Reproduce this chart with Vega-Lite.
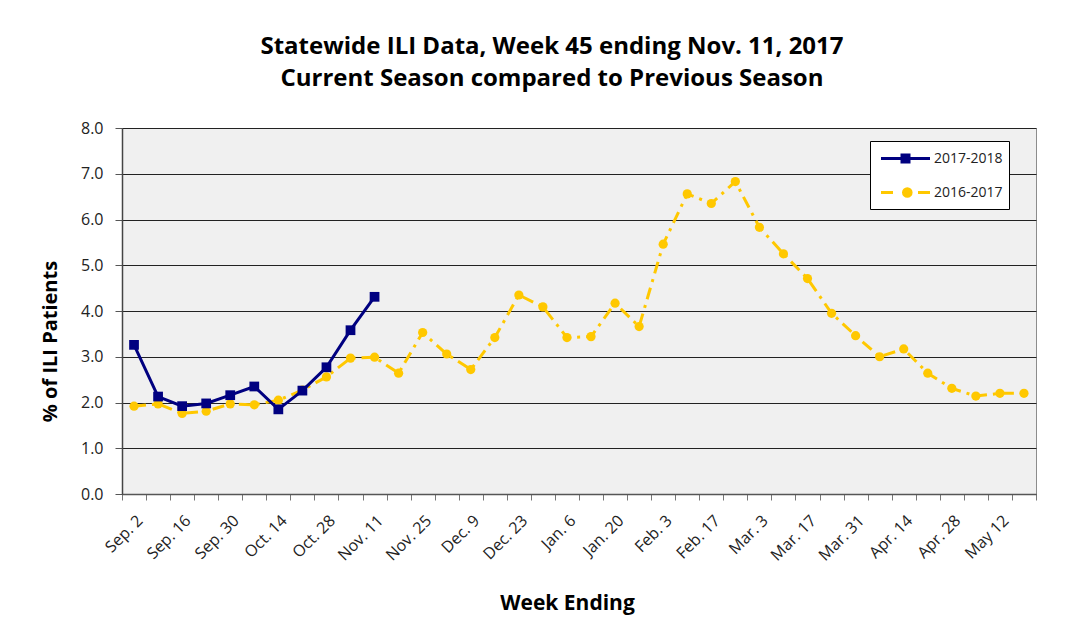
{
  "$schema": "https://vega.github.io/schema/vega-lite/v6.json",
  "width": 914,
  "height": 366,
  "autosize": {"type": "none"},
  "padding": {"left": 122, "top": 128, "right": 47, "bottom": 144},
  "background": "white",
  "title": {
    "text": ["Statewide ILI Data, Week 45 ending Nov. 11, 2017", "Current Season compared to Previous Season"],
    "font": "Open Sans",
    "fontSize": 24,
    "fontWeight": "bold",
    "color": "#000000",
    "lineHeight": 32,
    "anchor": "middle",
    "frame": "group",
    "dx": -27,
    "offset": 29
  },
  "config": {
    "view": {"fill": "#F0F0F0", "stroke": "#8C8C8C", "strokeWidth": 1},
    "font": "Open Sans"
  },
  "data": {"values": [
    {"week": "Sep. 2", "season": "2016-2017", "pct": 1.92},
    {"week": "Sep. 9", "season": "2016-2017", "pct": 1.97},
    {"week": "Sep. 16", "season": "2016-2017", "pct": 1.76},
    {"week": "Sep. 23", "season": "2016-2017", "pct": 1.81},
    {"week": "Sep. 30", "season": "2016-2017", "pct": 1.97},
    {"week": "Oct. 7", "season": "2016-2017", "pct": 1.95},
    {"week": "Oct. 14", "season": "2016-2017", "pct": 2.05},
    {"week": "Oct. 21", "season": "2016-2017", "pct": 2.27},
    {"week": "Oct. 28", "season": "2016-2017", "pct": 2.56},
    {"week": "Nov. 4", "season": "2016-2017", "pct": 2.97},
    {"week": "Nov. 11", "season": "2016-2017", "pct": 2.99},
    {"week": "Nov. 18", "season": "2016-2017", "pct": 2.64},
    {"week": "Nov. 25", "season": "2016-2017", "pct": 3.53},
    {"week": "Dec. 2", "season": "2016-2017", "pct": 3.06},
    {"week": "Dec. 9", "season": "2016-2017", "pct": 2.72},
    {"week": "Dec. 16", "season": "2016-2017", "pct": 3.42},
    {"week": "Dec. 23", "season": "2016-2017", "pct": 4.35},
    {"week": "Dec. 30", "season": "2016-2017", "pct": 4.09},
    {"week": "Jan. 6", "season": "2016-2017", "pct": 3.42},
    {"week": "Jan. 13", "season": "2016-2017", "pct": 3.44},
    {"week": "Jan. 20", "season": "2016-2017", "pct": 4.17},
    {"week": "Jan. 27", "season": "2016-2017", "pct": 3.66},
    {"week": "Feb. 3", "season": "2016-2017", "pct": 5.46},
    {"week": "Feb. 10", "season": "2016-2017", "pct": 6.56},
    {"week": "Feb. 17", "season": "2016-2017", "pct": 6.35},
    {"week": "Feb. 24", "season": "2016-2017", "pct": 6.83},
    {"week": "Mar. 3", "season": "2016-2017", "pct": 5.83},
    {"week": "Mar. 10", "season": "2016-2017", "pct": 5.25},
    {"week": "Mar. 17", "season": "2016-2017", "pct": 4.71},
    {"week": "Mar. 24", "season": "2016-2017", "pct": 3.95},
    {"week": "Mar. 31", "season": "2016-2017", "pct": 3.46},
    {"week": "Apr. 7", "season": "2016-2017", "pct": 3.0},
    {"week": "Apr. 14", "season": "2016-2017", "pct": 3.17},
    {"week": "Apr. 21", "season": "2016-2017", "pct": 2.64},
    {"week": "Apr. 28", "season": "2016-2017", "pct": 2.31},
    {"week": "May 5", "season": "2016-2017", "pct": 2.14},
    {"week": "May 12", "season": "2016-2017", "pct": 2.2},
    {"week": "May 19", "season": "2016-2017", "pct": 2.2},
    {"week": "Sep. 2", "season": "2017-2018", "pct": 3.26},
    {"week": "Sep. 9", "season": "2017-2018", "pct": 2.13},
    {"week": "Sep. 16", "season": "2017-2018", "pct": 1.92},
    {"week": "Sep. 23", "season": "2017-2018", "pct": 1.98},
    {"week": "Sep. 30", "season": "2017-2018", "pct": 2.16},
    {"week": "Oct. 7", "season": "2017-2018", "pct": 2.35},
    {"week": "Oct. 14", "season": "2017-2018", "pct": 1.85},
    {"week": "Oct. 21", "season": "2017-2018", "pct": 2.26},
    {"week": "Oct. 28", "season": "2017-2018", "pct": 2.77},
    {"week": "Nov. 4", "season": "2017-2018", "pct": 3.58},
    {"week": "Nov. 11", "season": "2017-2018", "pct": 4.31}
  ]},
  "encoding": {
    "x": {
      "field": "week",
      "type": "nominal",
      "scale": {
        "domain": ["Sep. 2","Sep. 9","Sep. 16","Sep. 23","Sep. 30","Oct. 7","Oct. 14","Oct. 21","Oct. 28","Nov. 4","Nov. 11","Nov. 18","Nov. 25","Dec. 2","Dec. 9","Dec. 16","Dec. 23","Dec. 30","Jan. 6","Jan. 13","Jan. 20","Jan. 27","Feb. 3","Feb. 10","Feb. 17","Feb. 24","Mar. 3","Mar. 10","Mar. 17","Mar. 24","Mar. 31","Apr. 7","Apr. 14","Apr. 21","Apr. 28","May 5","May 12","May 19"],
        "paddingInner": 0,
        "paddingOuter": 0
      },
      "axis": {
        "title": "Week Ending",
        "titleFont": "Open Sans",
        "titleFontSize": 21,
        "titleFontWeight": "bold",
        "titleColor": "#000000",
        "titleX": 445,
        "titleY": 109,
        "titleBaseline": "middle",
        "titleAlign": "center",
        "labelAngle": -45,
        "labelFont": "Open Sans",
        "labelFontSize": 16,
        "labelColor": "#222222",
        "labelExpr": "round(datum.index * 37) % 2 == 0 ? datum.label : ''",
        "labelPadding": 12,
        "labelOverlap": false,
        "tickBand": "extent",
        "tickSize": 6,
        "tickColor": "#777777",
        "domainColor": "#555555",
        "domainWidth": 1.5,
        "grid": false
      }
    },
    "y": {
      "field": "pct",
      "type": "quantitative",
      "scale": {"domain": [0, 8], "nice": false},
      "axis": {
        "title": "% of ILI Patients",
        "titleFont": "Open Sans",
        "titleFontSize": 20,
        "titleFontWeight": "bold",
        "titleColor": "#000000",
        "titleX": -72,
        "titleY": 213,
        "titleAngle": -90,
        "titleAlign": "center",
        "titleBaseline": "middle",
        "values": [0, 1, 2, 3, 4, 5, 6, 7, 8],
        "format": ".1f",
        "labelFont": "Open Sans",
        "labelFontSize": 16,
        "labelColor": "#222222",
        "labelPadding": 12,
        "tickSize": 7,
        "tickColor": "#555555",
        "domainColor": "#444444",
        "domainWidth": 1.5,
        "grid": true,
        "gridColor": "#222222",
        "gridWidth": 1
      }
    },
    "color": {
      "field": "season",
      "type": "nominal",
      "scale": {"domain": ["2017-2018", "2016-2017"], "range": ["#000080", "#FFC800"]},
      "legend": {
        "title": null,
        "orient": "none",
        "legendX": 748,
        "legendY": 13,
        "direction": "vertical",
        "fillColor": "white",
        "strokeColor": "#000000",
        "padding": 6,
        "symbolSize": 400,
        "symbolStrokeWidth": 3,
        "labelOffset": 35,
        "rowPadding": 13,
        "labelFont": "Open Sans",
        "labelFontSize": 14,
        "labelColor": "#222222",
        "encode": {
          "symbols": {
            "update": {
              "shape": {"signal": "datum.value === '2017-2018' ? 'M-0.65,0H4.25M1.45,-0.35H2.15V0.35H1.45Z' : 'M-0.65,0H0.55M3.05,0H4.25M1.6,0A0.38,0.38 0 1,0 2.36,0A0.38,0.38 0 1,0 1.6,0Z'"},
              "fill": {"signal": "scale('color', datum.value)"},
              "stroke": {"signal": "scale('color', datum.value)"},
              "strokeWidth": {"value": 3},
              "opacity": {"value": 1}
            }
          }
        }
      }
    }
  },
  "layer": [
    {
      "transform": [{"filter": "datum.season === '2016-2017'"}],
      "mark": {"type": "line", "strokeWidth": 3, "strokeDash": [12, 6, 3, 6]}
    },
    {
      "transform": [{"filter": "datum.season === '2016-2017'"}],
      "mark": {"type": "point", "shape": "circle", "filled": true, "size": 85, "opacity": 1}
    },
    {
      "transform": [{"filter": "datum.season === '2017-2018'"}],
      "mark": {"type": "line", "strokeWidth": 3}
    },
    {
      "transform": [{"filter": "datum.season === '2017-2018'"}],
      "mark": {"type": "point", "shape": "square", "filled": true, "size": 95, "opacity": 1}
    }
  ]
}
